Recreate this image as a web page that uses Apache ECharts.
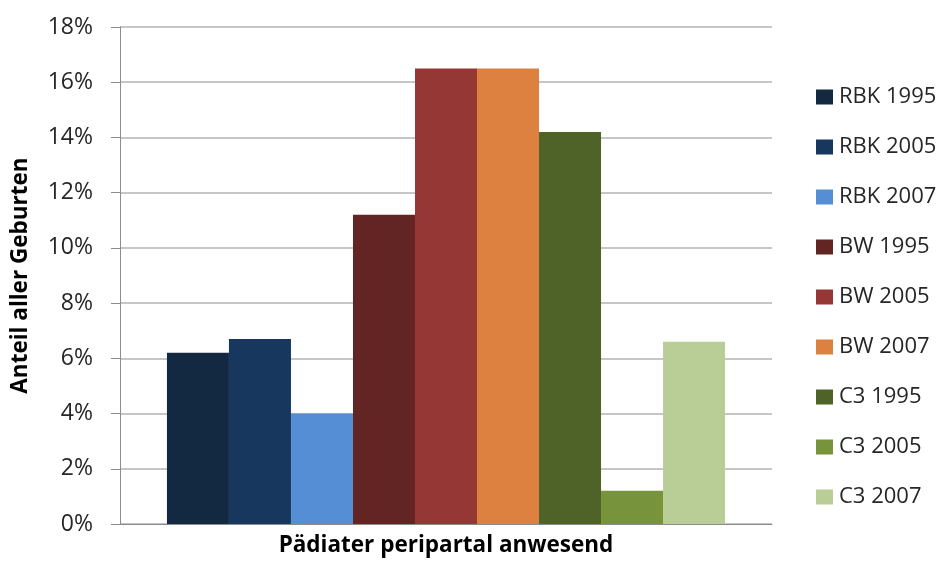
<!DOCTYPE html>
<html>
<head>
<meta charset="utf-8">
<script src="https://cdn.jsdelivr.net/npm/echarts@6/dist/echarts.min.js"></script>
<style>
  html, body { margin: 0; padding: 0; background: #fff; }
  #main { width: 947px; height: 561px; }
</style>
</head>
<body>
<div id="main"></div>
<script>
// Daten
const categories = ['Pädiater peripartal anwesend'];
const seriesNames = ['RBK 1995', 'RBK 2005', 'RBK 2007', 'BW 1995', 'BW 2005', 'BW 2007', 'C3 1995', 'C3 2005', 'C3 2007'];
const seriesValues = [6.2, 6.7, 4.0, 11.2, 16.5, 16.5, 14.2, 1.2, 6.6];
const seriesColors = ['#132841', '#17375e', '#558ed5', '#632523', '#953735', '#dd8140', '#4f6228', '#77933c', '#b9cd96'];

var myChart = echarts.init(document.getElementById('main'));

const font = 'Open Sans';

const option = {
    animation: false,
    color: seriesColors,
    grid: { left: 120, right: 175, top: 27, bottom: 37 },
    legend: {
        orient: 'vertical',
        left: 816,
        top: 86,
        padding: 0,
        itemWidth: 17,
        itemHeight: 15,
        itemGap: 28,
        icon: 'rect',
        textStyle: { fontFamily: font, fontSize: 22, color: '#262626', padding: [0, 0, 0, 1] },
        data: seriesNames
    },
    xAxis: {
        type: 'category',
        data: categories,
        axisLine: { lineStyle: { color: '#8c8c8c', width: 1 } },
        axisTick: { show: false },
        axisLabel: { fontFamily: font, fontSize: 22.5, fontWeight: 'bold', color: '#000', margin: 10 }
    },
    yAxis: {
        type: 'value',
        min: 0,
        max: 18,
        interval: 2,
        name: 'Anteil aller Geburten',
        nameLocation: 'middle',
        nameGap: 88,
        nameTextStyle: { fontFamily: font, fontSize: 22.5, fontWeight: 'bold', color: '#000' },
        axisLine: { show: true, lineStyle: { color: '#8c8c8c', width: 1 } },
        axisTick: { show: true, length: 9, lineStyle: { color: '#8c8c8c' } },
        axisLabel: {
            fontFamily: font, fontSize: 23, color: '#262626', margin: 27,
            formatter: v => v + '%'
        },
        splitLine: { lineStyle: { color: '#b3b3b3', width: 1.5 } }
    },
    series: seriesNames.map((name, i) => ({
        name: name,
        type: 'bar',
        data: [seriesValues[i]],
        barGap: '0%',
        barCategoryGap: '14.4%',
        itemStyle: { color: seriesColors[i] }
    }))
};

myChart.setOption(option);
window.addEventListener('resize', myChart.resize);
</script>
</body>
</html>
